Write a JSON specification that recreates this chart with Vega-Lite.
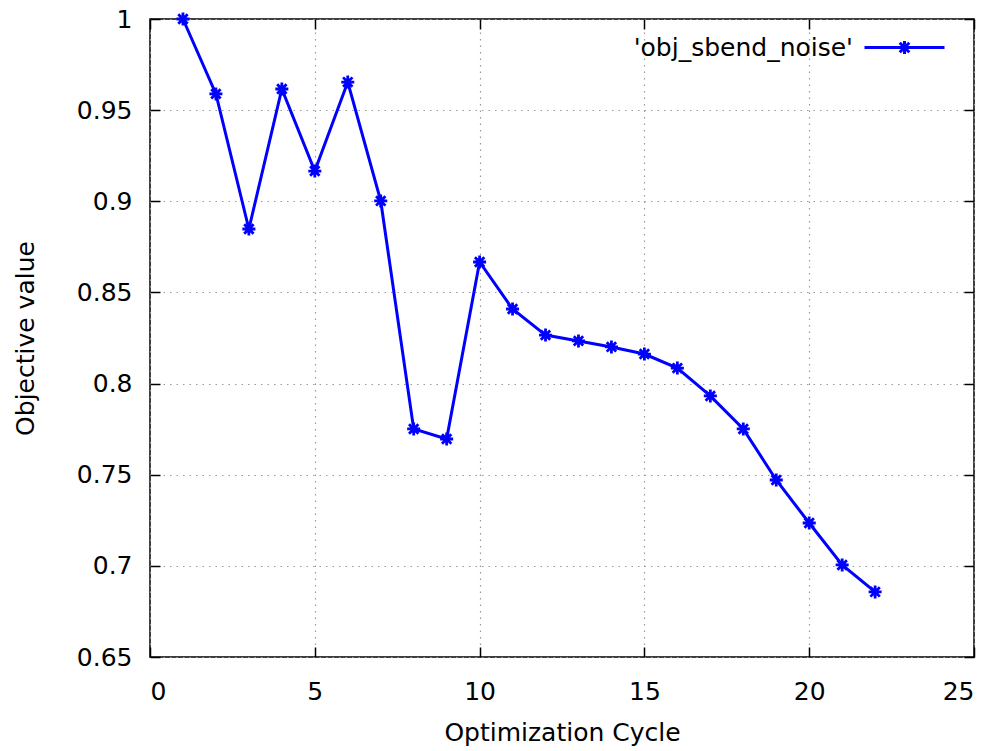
{
  "$schema": "https://vega.github.io/schema/vega-lite/v6.json",
  "width": 824,
  "height": 638,
  "autosize": "none",
  "padding": {"left": 150, "top": 19, "right": 22, "bottom": 94},
  "background": "white",
  "data": {
    "values": [
      {"cycle": 1, "value": 1.0, "series": "'obj_sbend_noise'"},
      {"cycle": 2, "value": 0.9589, "series": "'obj_sbend_noise'"},
      {"cycle": 3, "value": 0.8848, "series": "'obj_sbend_noise'"},
      {"cycle": 4, "value": 0.9616, "series": "'obj_sbend_noise'"},
      {"cycle": 5, "value": 0.9166, "series": "'obj_sbend_noise'"},
      {"cycle": 6, "value": 0.9654, "series": "'obj_sbend_noise'"},
      {"cycle": 7, "value": 0.9002, "series": "'obj_sbend_noise'"},
      {"cycle": 8, "value": 0.7751, "series": "'obj_sbend_noise'"},
      {"cycle": 9, "value": 0.7696, "series": "'obj_sbend_noise'"},
      {"cycle": 10, "value": 0.8667, "series": "'obj_sbend_noise'"},
      {"cycle": 11, "value": 0.8409, "series": "'obj_sbend_noise'"},
      {"cycle": 12, "value": 0.8266, "series": "'obj_sbend_noise'"},
      {"cycle": 13, "value": 0.8234, "series": "'obj_sbend_noise'"},
      {"cycle": 14, "value": 0.8201, "series": "'obj_sbend_noise'"},
      {"cycle": 15, "value": 0.8162, "series": "'obj_sbend_noise'"},
      {"cycle": 16, "value": 0.8085, "series": "'obj_sbend_noise'"},
      {"cycle": 17, "value": 0.7932, "series": "'obj_sbend_noise'"},
      {"cycle": 18, "value": 0.7751, "series": "'obj_sbend_noise'"},
      {"cycle": 19, "value": 0.7471, "series": "'obj_sbend_noise'"},
      {"cycle": 20, "value": 0.7235, "series": "'obj_sbend_noise'"},
      {"cycle": 21, "value": 0.7005, "series": "'obj_sbend_noise'"},
      {"cycle": 22, "value": 0.6857, "series": "'obj_sbend_noise'"}
    ]
  },
  "config": {
    "view": {"stroke": "#000000", "strokeWidth": 1.5},
    "axis": {
      "labelFont": "DejaVu Sans",
      "labelFontSize": 25,
      "labelColor": "#000000",
      "titleFont": "DejaVu Sans",
      "titleFontSize": 25,
      "titleFontWeight": "normal",
      "titleColor": "#000000",
      "domain": false,
      "tickColor": "#000000",
      "tickWidth": 1.5,
      "tickSize": -10,
      "gridColor": "#999999",
      "gridDash": [1.5, 5],
      "gridWidth": 1.2
    },
    "legend": {
      "orient": "none",
      "legendX": 713,
      "legendY": -13,
      "padding": 0,
      "title": null,
      "labelFont": "DejaVu Sans",
      "labelFontSize": 25,
      "labelColor": "#000000",
      "labelAlign": "right",
      "labelOffset": -93,
      "labelLimit": 0,
      "symbolType": "M-1,0H1M0,-0.16V0.16M-0.12,-0.12L0.12,0.12M-0.12,0.12L0.12,-0.12",
      "symbolSize": 6400,
      "symbolStrokeWidth": 3,
      "symbolStrokeColor": "#0000ff",
      "symbolFillColor": "transparent"
    }
  },
  "resolve": {"axis": {"x": "independent", "y": "independent"}},
  "layer": [
    {
      "mark": {"type": "line", "strokeWidth": 3},
      "encoding": {
        "x": {
          "field": "cycle",
          "type": "quantitative",
          "scale": {"domain": [0, 25], "nice": false, "zero": false},
          "axis": {
            "values": [0, 5, 10, 15, 20, 25],
            "title": "Optimization Cycle",
            "labelPadding": 32,
            "titleX": 412,
            "titleY": 83,
            "titleBaseline": "alphabetic",
            "grid": true
          }
        },
        "y": {
          "field": "value",
          "type": "quantitative",
          "scale": {"domain": [0.65, 1], "nice": false, "zero": false},
          "axis": {
            "values": [0.65, 0.7, 0.75, 0.8, 0.85, 0.9, 0.95, 1],
            "format": "~g",
            "title": "Objective value",
            "labelPadding": 28,
            "titleX": -117,
            "titleY": 319,
            "titleAngle": 270,
            "titleAlign": "center",
            "titleBaseline": "alphabetic",
            "grid": true
          }
        },
        "color": {
          "field": "series",
          "type": "nominal",
          "scale": {"range": ["#0000ff"]},
          "legend": {}
        }
      }
    },
    {
      "mark": {
        "type": "point",
        "shape": "M-1,0H1M0,-1V1M-0.72,-0.72L0.72,0.72M-0.72,0.72L0.72,-0.72",
        "size": 170,
        "filled": false,
        "stroke": "#0000ff",
        "strokeWidth": 2.8,
        "opacity": 1
      },
      "encoding": {
        "x": {
          "field": "cycle",
          "type": "quantitative",
          "axis": {
            "orient": "top",
            "values": [0, 5, 10, 15, 20, 25],
            "labels": false,
            "title": null,
            "grid": false
          }
        },
        "y": {
          "field": "value",
          "type": "quantitative",
          "axis": {
            "orient": "right",
            "values": [0.65, 0.7, 0.75, 0.8, 0.85, 0.9, 0.95, 1],
            "labels": false,
            "title": null,
            "grid": false
          }
        }
      }
    }
  ]
}
